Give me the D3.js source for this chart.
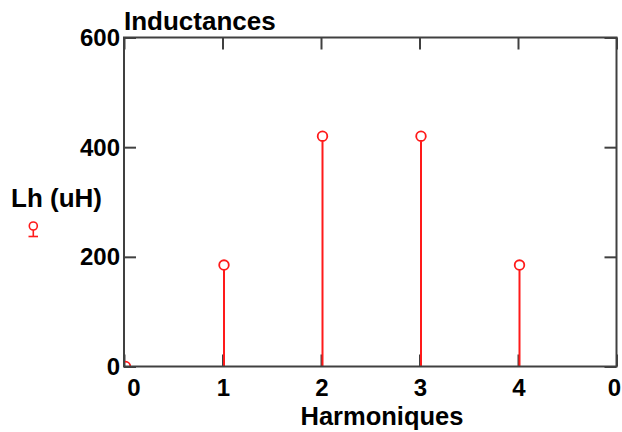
<!DOCTYPE html>
<html>
<head>
<meta charset="utf-8">
<script src="https://cdn.jsdelivr.net/npm/d3@7"></script>
<style>
  html, body { margin: 0; padding: 0; background: #fff; }
  svg { display: block; font-family: "Liberation Sans", Arial, sans-serif; }
</style>
</head>
<body>
<div id="chart"></div>
<script>
// ---- data ----
const harmonics = [0, 1, 2, 3, 4];
const inductances = [0, 185, 420, 420, 185];
const xTickValues = [0, 1, 2, 3, 4, 5];
const xTickLabels = ["0", "1", "2", "3", "4", "0"];
const yTickValues = [0, 200, 400, 600];
const titleText = "Inductances";
const xLabelText = "Harmoniques";
const yLabelText = "Lh (uH)";

// ---- layout ----
const W = 622, H = 432;
const plot = { left: 124, top: 37.5, right: 616.5, bottom: 366.5 };
const red = "#ff1a1a";
const axisColor = "#404040";

const svg = d3.select("#chart").append("svg").attr("width", W).attr("height", H);

const x = d3.scaleLinear().domain([0, 5]).range([plot.left, plot.right]);
const y = d3.scaleLinear().domain([0, 600]).range([plot.bottom, plot.top]);

svg.append("defs").append("clipPath").attr("id", "clip")
  .append("rect")
  .attr("x", plot.left).attr("y", plot.top)
  .attr("width", plot.right - plot.left).attr("height", plot.bottom - plot.top);

const tickLen = 12;

// inward ticks on all four sides
const bottomAxis = d3.axisBottom(x).tickValues(xTickValues).tickSizeInner(-tickLen).tickSizeOuter(0).tickFormat("");
const topAxis = d3.axisTop(x).tickValues(xTickValues).tickSizeInner(-tickLen).tickSizeOuter(0).tickFormat("");
const leftAxis = d3.axisLeft(y).tickValues(yTickValues).tickSizeInner(-tickLen).tickSizeOuter(0).tickFormat("");
const rightAxis = d3.axisRight(y).tickValues(yTickValues).tickSizeInner(-tickLen).tickSizeOuter(0).tickFormat("");

function styleAxis(g) {
  g.select(".domain").remove();
  g.selectAll(".tick line").attr("stroke", axisColor).attr("stroke-width", 2);
}
svg.append("g").attr("transform", `translate(0,${plot.bottom})`).call(bottomAxis).call(styleAxis);
svg.append("g").attr("transform", `translate(0,${plot.top})`).call(topAxis).call(styleAxis);
svg.append("g").attr("transform", `translate(${plot.left},0)`).call(leftAxis).call(styleAxis);
svg.append("g").attr("transform", `translate(${plot.right},0)`).call(rightAxis).call(styleAxis);

// stems
const marks = svg.append("g").attr("clip-path", "url(#clip)");
marks.selectAll("line.stem").data(harmonics).join("line")
  .attr("class", "stem")
  .attr("x1", d => x(d) + 1.5).attr("x2", d => x(d) + 1.5)
  .attr("y1", y(0)).attr("y2", (d, i) => y(inductances[i]) + 5)
  .attr("stroke", red).attr("stroke-width", 2);
marks.selectAll("circle.mk").data(harmonics).join("circle")
  .attr("class", "mk")
  .attr("cx", d => x(d) + 1.5).attr("cy", (d, i) => y(inductances[i]))
  .attr("r", 4.8)
  .attr("fill", "none").attr("stroke", red).attr("stroke-width", 1.8);

// frame
svg.append("rect")
  .attr("x", plot.left).attr("y", plot.top)
  .attr("width", plot.right - plot.left).attr("height", plot.bottom - plot.top)
  .attr("fill", "none").attr("stroke", axisColor).attr("stroke-width", 2);

// tick labels
const fontSize = 24;
const xLabelShift = [10, 1, 1, 1, 1, -2];
svg.append("g").selectAll("text").data(xTickValues).join("text")
  .attr("x", (d, i) => x(d) + xLabelShift[i])
  .attr("y", 396)
  .attr("text-anchor", "middle")
  .attr("font-size", fontSize).attr("font-weight", "bold").attr("fill", "#000")
  .text((d, i) => xTickLabels[i]);

svg.append("g").selectAll("text").data(yTickValues).join("text")
  .attr("x", plot.left - 4)
  .attr("y", d => y(d))
  .attr("dy", "0.36em")
  .attr("text-anchor", "end")
  .attr("font-size", fontSize).attr("font-weight", "bold").attr("fill", "#000")
  .text(d => d);

// title
svg.append("text")
  .attr("x", plot.left).attr("y", 30)
  .attr("font-size", 26).attr("font-weight", "bold").attr("fill", "#000")
  .text(titleText);

// x label
svg.append("text")
  .attr("x", 382).attr("y", 424.5)
  .attr("text-anchor", "middle")
  .attr("font-size", 25.5).attr("font-weight", "bold").attr("fill", "#000")
  .text(xLabelText);

// y label (legend-like)
svg.append("text")
  .attr("x", 11).attr("y", 207)
  .attr("font-size", 26).attr("font-weight", "bold").attr("fill", "#000")
  .text(yLabelText);

// legend symbol
const lg = svg.append("g");
lg.append("circle").attr("cx", 33.3).attr("cy", 226).attr("r", 4)
  .attr("fill", "none").attr("stroke", red).attr("stroke-width", 1.6);
lg.append("line").attr("x1", 33.3).attr("x2", 33.3).attr("y1", 230).attr("y2", 236.5)
  .attr("stroke", red).attr("stroke-width", 1.6);
lg.append("line").attr("x1", 28.5).attr("x2", 38).attr("y1", 236.5).attr("y2", 236.5)
  .attr("stroke", red).attr("stroke-width", 1.6);
</script>
</body>
</html>
